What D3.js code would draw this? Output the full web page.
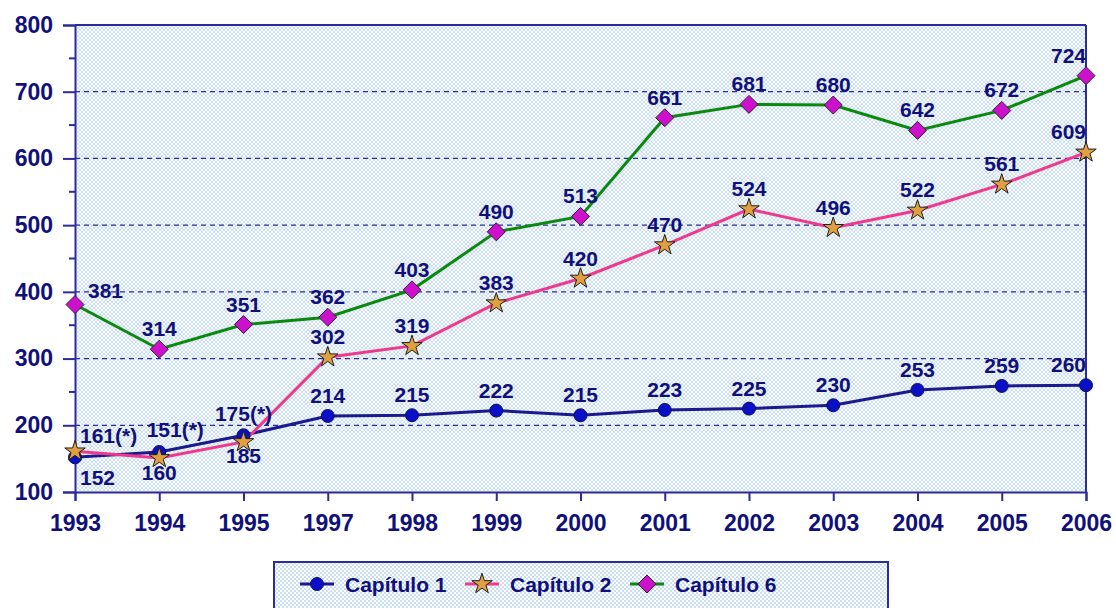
<script src="https://cdn.jsdelivr.net/npm/d3@7"></script>
<style>
  body { margin: 0; background: #fff; }
  text { font-family: "Liberation Sans", Arial, sans-serif; font-weight: bold; fill: #10107a; }
</style>
<div id="chart"></div>
<script>
// categories and series
var years = ["1993", "1994", "1995", "1997", "1998", "1999", "2000", "2001", "2002", "2003", "2004", "2005", "2006"];
var cap1 = [152, 160, 185, 214, 215, 222, 215, 223, 225, 230, 253, 259, 260];
var cap2 = [161, 151, 175, 302, 319, 383, 420, 470, 524, 496, 522, 561, 609];
var cap6 = [381, 314, 351, 362, 403, 490, 513, 661, 681, 680, 642, 672, 724];
var cap2Labels = ["161(*)", "151(*)", "175(*)", "302", "319", "383", "420", "470", "524", "496", "522", "561", "609"];
var yTicks = [100, 200, 300, 400, 500, 600, 700, 800];
var names = ["Capítulo 1", "Capítulo 2", "Capítulo 6"];

var W = 1116, H = 608;
var margin = {top: 25, right: 30, bottom: 116, left: 75};
var width = 1086 - margin.left, height = 492 - margin.top;

var svg = d3.select("#chart").append("svg")
    .attr("width", W).attr("height", H);

// dotted background pattern
var defs = svg.append("defs");
var pat = defs.append("pattern").attr("id", "dots")
    .attr("width", 4).attr("height", 4).attr("patternUnits", "userSpaceOnUse");
pat.append("rect").attr("width", 4).attr("height", 4).attr("fill", "#fff");
pat.append("rect").attr("x", 0).attr("y", 0).attr("width", 2).attr("height", 2).attr("fill", "#c8ddf6");
pat.append("rect").attr("x", 2).attr("y", 2).attr("width", 2).attr("height", 2).attr("fill", "#c8ddf6");

var g = svg.append("g").attr("transform", "translate(" + margin.left + "," + margin.top + ")");

var x = d3.scalePoint().domain(years).range([0, width]);
var y = d3.scaleLinear().domain([100, 800]).range([height, 0]);

var navy = "#2b2b9b";

g.append("rect").attr("width", width).attr("height", height).attr("fill", "url(#dots)");

// dashed grid
g.append("g").selectAll("line")
    .data(yTicks.filter(function(d) { return d > 100 && d < 800; }))
    .enter().append("line")
    .attr("x1", 0).attr("x2", width)
    .attr("y1", function(d) { return y(d); }).attr("y2", function(d) { return y(d); })
    .attr("stroke", navy).attr("stroke-width", 1.3).attr("stroke-dasharray", "5,4");

// frame top & right
g.append("line").attr("x1", 0).attr("x2", width).attr("y1", 0).attr("y2", 0).attr("stroke", navy).attr("stroke-width", 2);
g.append("line").attr("x1", width).attr("x2", width).attr("y1", 0).attr("y2", height).attr("stroke", navy).attr("stroke-width", 2);

// y axis
var yAxis = g.append("g").call(d3.axisLeft(y).tickValues(yTicks).tickSize(12).tickPadding(10));
yAxis.selectAll("text").style("font-size", "23px");
// minor ticks
g.append("g").selectAll("line").data(d3.range(150, 800, 100)).enter().append("line")
    .attr("x1", -6).attr("x2", 0)
    .attr("y1", function(d) { return y(d); }).attr("y2", function(d) { return y(d); })
    .attr("stroke", navy).attr("stroke-width", 2);

// x axis
var xAxis = g.append("g").attr("transform", "translate(0," + height + ")")
    .call(d3.axisBottom(x).tickSize(9).tickPadding(14));
xAxis.selectAll("text").style("font-size", "23px");

[yAxis, xAxis].forEach(function(a) {
    a.select(".domain").attr("stroke", navy).attr("stroke-width", 2);
    a.selectAll(".tick line").attr("stroke", navy).attr("stroke-width", 2);
    a.selectAll("text").attr("fill", "#10107a");
});

var line = d3.line().x(function(d, i) { return x(years[i]); }).y(function(d) { return y(d); });

var series = [
    {vals: cap1, color: "#1a1a8c", labels: cap1.map(String)},
    {vals: cap2, color: "#f0388c", labels: cap2Labels},
    {vals: cap6, color: "#0a8a0a", labels: cap6.map(String)}
];

series.forEach(function(s) {
    g.append("path").datum(s.vals).attr("d", line)
        .attr("fill", "none").attr("stroke", s.color).attr("stroke-width", 3);
});

var star = d3.symbol().type(d3.symbolStar).size(130);
var diamond = "M0,-9L9,0L0,9L-9,0Z";

function marker(sel, k) {
    if (k === 0) {
        sel.append("circle").attr("r", 6.5).attr("fill", "#0a10c8").attr("stroke", "#101050").attr("stroke-width", 1);
    } else if (k === 1) {
        sel.append("path").attr("d", star).attr("fill", "#e0a040").attr("stroke", "#202020").attr("stroke-width", 1);
    } else {
        sel.append("path").attr("d", diamond).attr("fill", "#cc10cc").attr("stroke", "#302030").attr("stroke-width", 1);
    }
}

series.forEach(function(s, k) {
    s.vals.forEach(function(v, i) {
        var m = g.append("g").attr("transform", "translate(" + x(years[i]) + "," + y(v) + ")");
        marker(m, k);
    });
});

// value labels
series.forEach(function(s, k) {
    g.append("g").selectAll("text").data(s.vals).enter().append("text")
        .attr("x", function(d, i) {
            if (i === 0) return x(years[i]) + (k === 2 ? 13 : 5);
            if (k === 1 && i === 1) return x(years[i]) + 16;
            return x(years[i]);
        })
        .attr("y", function(d, i) {
            if (k === 0 && i < 3) return y(d) + 28;
            if (k === 2 && i === 0) return y(d) - 7;
            if (k === 1 && i === 0) return y(d) - 8;
            if (k === 1 && i < 3) return y(d) - 21;
            return y(d) - 13;
        })
        .attr("text-anchor", function(d, i) {
            if (i === 0) return "start";
            if (i === years.length - 1) return "end";
            return "middle";
        })
        .style("font-size", "21px")
        .text(function(d, i) { return s.labels[i]; });
});

// legend
var lg = svg.append("g").attr("transform", "translate(274,562)");
lg.append("rect").attr("width", 614).attr("height", 50).attr("fill", "url(#dots)")
    .attr("stroke", navy).attr("stroke-width", 2);
var lx = [26, 191, 356];
names.forEach(function(n, k) {
    var it = lg.append("g").attr("transform", "translate(" + lx[k] + ",22)");
    it.append("line").attr("x1", 0).attr("x2", 34).attr("stroke", series[k].color).attr("stroke-width", 3);
    var m = it.append("g").attr("transform", "translate(17,0)");
    marker(m, k);
    it.append("text").attr("x", 45).attr("y", 8).style("font-size", "21px").text(n);
});
</script>
